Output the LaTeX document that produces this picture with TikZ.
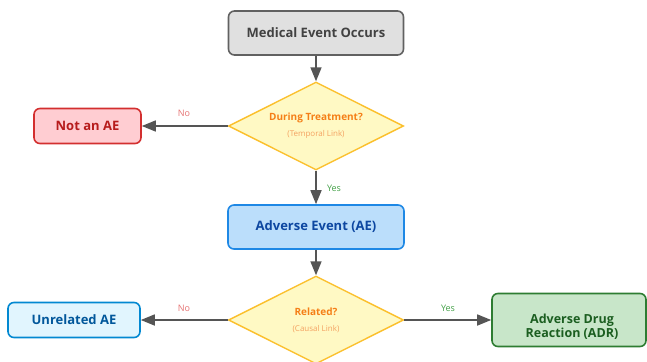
\documentclass[tikz,border=0pt]{standalone}
\usepackage{fontspec}
\setmainfont{Open Sans}
\usetikzlibrary{shapes.geometric,arrows.meta}
\definecolor{grayfill}{HTML}{E0E0E0}
\definecolor{graydraw}{HTML}{616161}
\definecolor{graytext}{HTML}{424242}
\definecolor{decfill}{HTML}{FFF9C4}
\definecolor{decdraw}{HTML}{FBC02D}
\definecolor{dectext}{HTML}{F57F17}
\definecolor{decsub}{HTML}{F4A261}
\definecolor{redfill}{HTML}{FFCDD2}
\definecolor{reddraw}{HTML}{D32F2F}
\definecolor{redtext}{HTML}{B71C1C}
\definecolor{bluefill}{HTML}{BBDEFB}
\definecolor{bluedraw}{HTML}{1E88E5}
\definecolor{bluetext}{HTML}{0D47A1}
\definecolor{lbfill}{HTML}{E1F5FE}
\definecolor{lbdraw}{HTML}{0288D1}
\definecolor{lbtext}{HTML}{01579B}
\definecolor{grnfill}{HTML}{C8E6C9}
\definecolor{grndraw}{HTML}{2E7D32}
\definecolor{grntext}{HTML}{1B5E20}
\definecolor{arrowc}{HTML}{555555}
\definecolor{nolab}{HTML}{E57373}
\definecolor{yeslab}{HTML}{43A047}
\tikzset{
  box/.style={rectangle, rounded corners=6pt, line width=1.6pt, inner sep=0pt, align=center, font=\bfseries\fontsize{13}{15}\selectfont},
  dec/.style={diamond, aspect=2, fill=decfill, draw=decdraw, line width=1.4pt, inner sep=0pt, minimum width=175pt, minimum height=88pt, align=center},
  flow/.style={draw=arrowc, line width=1.6pt, -{Triangle[length=14pt,width=11pt]}},
  lab/.style={font=\fontsize{9}{11}\selectfont, inner sep=0pt}
}
\begin{document}
\begin{tikzpicture}[x=1pt,y=-1pt]
\useasboundingbox (0,0) rectangle (647,361);
\clip (0,0) rectangle (647,361);
\node[box, fill=grayfill, draw=graydraw, text=graytext, minimum width=175pt, minimum height=44pt] (med) at (316,33) {Medical Event Occurs};
\node[dec] (d1) at (316,126) {{\color{dectext}\bfseries\fontsize{10}{12}\selectfont During Treatment?}\\[4pt]{\color{decsub}\fontsize{8}{10}\selectfont (Temporal Link)}};
\node[box, fill=redfill, draw=reddraw, text=redtext, minimum width=107pt, minimum height=35pt] (notae) at (87.5,126) {Not an AE};
\node[box, fill=bluefill, draw=bluedraw, text=bluetext, minimum width=176pt, minimum height=44pt] (ae) at (316,227) {Adverse Event (AE)};
\node[dec] (d2) at (316,320) {{\color{dectext}\bfseries\fontsize{10}{12}\selectfont Related?}\\[4pt]{\color{decsub}\fontsize{8}{10}\selectfont (Causal Link)}};
\node[box, fill=lbfill, draw=lbdraw, text=lbtext, minimum width=132pt, minimum height=35pt] (unrel) at (74,320) {Unrelated AE};
\node[box, fill=grnfill, draw=grndraw, minimum width=154pt, minimum height=53pt] (adr) at (569,320) {};
\node[align=center, inner sep=0pt, text=grntext, font=\bfseries\fontsize{12.5}{13.5}\selectfont] (adrtext) at (572,326.5) {Adverse Drug\\Reaction (ADR)};
\draw[flow] (med) -- (d1);
\draw[flow] (d1) -- (notae);
\draw[flow] (d1) -- (ae);
\draw[flow] (ae) -- (d2);
\draw[flow] (d2) -- (unrel);
\draw[flow] (d2) -- (adr);
\node[lab, text=nolab] (no1) at (184,113) {No};
\node[lab, text=yeslab] (yes1) at (334,188) {Yes};
\node[lab, text=nolab] (no2) at (184,308) {No};
\node[lab, text=yeslab] (yes2) at (448,308) {Yes};
\end{tikzpicture}
\end{document}
